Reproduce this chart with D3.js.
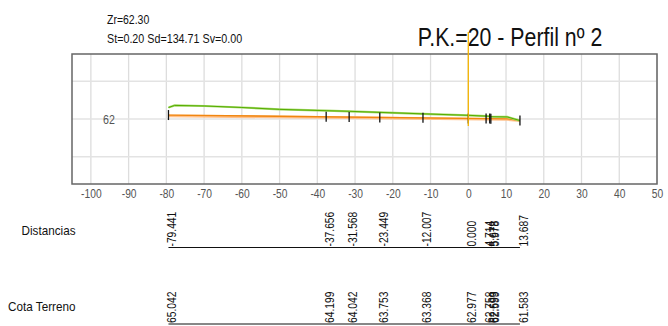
<!DOCTYPE html>
<html>
<head>
<meta charset="utf-8">
<script src="https://cdn.jsdelivr.net/npm/d3@7"></script>
<style>
  html, body { margin: 0; padding: 0; background: #fff; }
  svg { display: block; }
  text { font-family: "Liberation Sans", Arial, sans-serif; }
</style>
</head>
<body>
<svg id="chart" width="668" height="326"></svg>
<script>
// ---- data ----
const headerLines = ["Zr=62.30", "St=0.20 Sd=134.71 Sv=0.00"];
const title = "P.K.=20 - Perfil nº 2";
const xTicks = [-100, -90, -80, -70, -60, -50, -40, -30, -20, -10, 0, 10, 20, 30, 40, 50];
const yTickLabels = [62];
const yGrid = [52, 62, 72];
// stations shown in the table
const distances = [-79.441, -37.656, -31.568, -23.449, -12.007, 0.000, 4.714, 5.678, 5.978, 13.687];
const cotaTerreno = [65.042, 64.199, 64.042, 63.753, 63.368, 62.977, 62.758, 62.693, 62.599, 61.583];
// terrain line (green) as drawn
const terrainX = [-79.441, -77.8, -70, -60, -50, -37.656, -31.568, -23.449, -12.007, 0.000, 4.714, 5.678, 5.978, 10.3, 13.687];
const terrainZ = [65.042, 65.6, 65.45, 65.05, 64.55, 64.199, 64.042, 63.753, 63.368, 62.977, 62.758, 62.693, 62.599, 62.55, 61.583];
// design line (orange)
const designX = [-79.441, 10.3, 13.687];
const designZ = [63.05, 62.05, 61.583];
const designLightZ = [62.85, 61.88, 61.583];

// ---- layout ----
const NARROW = 0.82;
const svg = d3.select("#chart");
const L = 72, R = 657, T = 54, B = 184;
const x = d3.scaleLinear().domain([-105, 50]).range([L, R]);
const k = (R - L) / 155;
const halfY = (B - T) / 2 / k;
const y = d3.scaleLinear().domain([62 - halfY, 62 + halfY]).range([B, T]);
const f3 = d => d.toFixed(3);

function ntext(px, py, str, size, anchor, fill, rot, sx) {
  return svg.append("text")
    .attr("transform", `translate(${px},${py})` + (rot ? ` rotate(${rot})` : "") + ` scale(${sx || NARROW},1)`)
    .attr("text-anchor", anchor || "start")
    .attr("font-size", size).attr("fill", fill || "#111").text(str);
}

// header text
ntext(107, 24, headerLines[0], 12.8);
ntext(107, 43, headerLines[1], 13.1);
ntext(510, 46, title, 26, "middle");

// grid
const g = svg.append("g");
g.selectAll("line.vg").data(xTicks).join("line")
  .attr("x1", d => x(d)).attr("x2", d => x(d)).attr("y1", T).attr("y2", B)
  .attr("stroke", "#dddddd").attr("stroke-width", 1.3);
g.selectAll("line.hg").data(yGrid).join("line")
  .attr("x1", L).attr("x2", R).attr("y1", d => y(d)).attr("y2", d => y(d))
  .attr("stroke", "#e3e3e3").attr("stroke-width", 1.6);

// x axis labels
const xAxis = d3.axisBottom(x).tickValues(xTicks).tickSize(0).tickPadding(0).tickFormat(d => String(d));
const ax = svg.append("g").attr("transform", `translate(0,${B + 14})`).call(xAxis);
ax.select(".domain").remove();
ax.selectAll("text").attr("font-size", 12.5).attr("fill", "#555").attr("dy", 0)
  .attr("transform", `scale(${NARROW},1)`)
  .style("font-family", '"Liberation Sans", Arial, sans-serif');

// y label
yTickLabels.forEach(v => ntext(109, y(v) + 4.5, String(v), 13, "middle", "#555"));

// frame
svg.append("rect").attr("x", L).attr("y", T).attr("width", R - L).attr("height", B - T)
  .attr("fill", "none").attr("stroke", "#666").attr("stroke-width", 1.5);

// lines
const line = d3.line().x(d => x(d[0])).y(d => y(d[1]));
const designLight = designX.map((d, i) => [d, designLightZ[i]]);
const design = designX.map((d, i) => [d, designZ[i]]);
const terrain = terrainX.map((d, i) => [d, terrainZ[i]]);
svg.append("path").datum(designLight).attr("d", line).attr("fill", "none").attr("stroke", "#ffc08a").attr("stroke-width", 2.8);
svg.append("path").datum(design).attr("d", line).attr("fill", "none").attr("stroke", "#f0860f").attr("stroke-width", 1.3);
svg.append("path").datum(terrain).attr("d", line).attr("fill", "none").attr("stroke", "#a6d96a").attr("stroke-width", 2.2);
svg.append("path").datum(terrain).attr("d", line).attr("fill", "none").attr("stroke", "#55ad00").attr("stroke-width", 1);

// station ticks centred on design line
const designAt = d3.scaleLinear().domain(designX).range(designZ);
svg.selectAll("line.st").data(distances).join("line")
  .attr("x1", d => x(d)).attr("x2", d => x(d))
  .attr("y1", d => y(designAt(d)) - 5).attr("y2", d => y(designAt(d)) + 5)
  .attr("stroke", "#111").attr("stroke-width", 1.3);

// axis marker at 0
svg.append("line").attr("x1", x(0)).attr("x2", x(0)).attr("y1", 32).attr("y2", 126)
  .attr("stroke", "#f5b400").attr("stroke-width", 1.3);

// table
const rows = [
  { label: "Distancias", vals: distances, lineY: 247.5, labelY: 235 },
  { label: "Cota Terreno", vals: cotaTerreno, lineY: 324, labelY: 311 }
];
rows.forEach(r => {
  ntext(75.5, r.labelY, r.label, 13, "end", "#111", 0, 0.9);
  svg.append("line").attr("x1", x(distances[0])).attr("x2", x(distances[distances.length - 1]))
    .attr("y1", r.lineY).attr("y2", r.lineY).attr("stroke", "#111").attr("stroke-width", 1.2);
  r.vals.forEach((v, i) => ntext(x(distances[i]) + 8, r.lineY - 1, f3(v), 12.5, "start", "#111", -90));
});
</script>
</body>
</html>
